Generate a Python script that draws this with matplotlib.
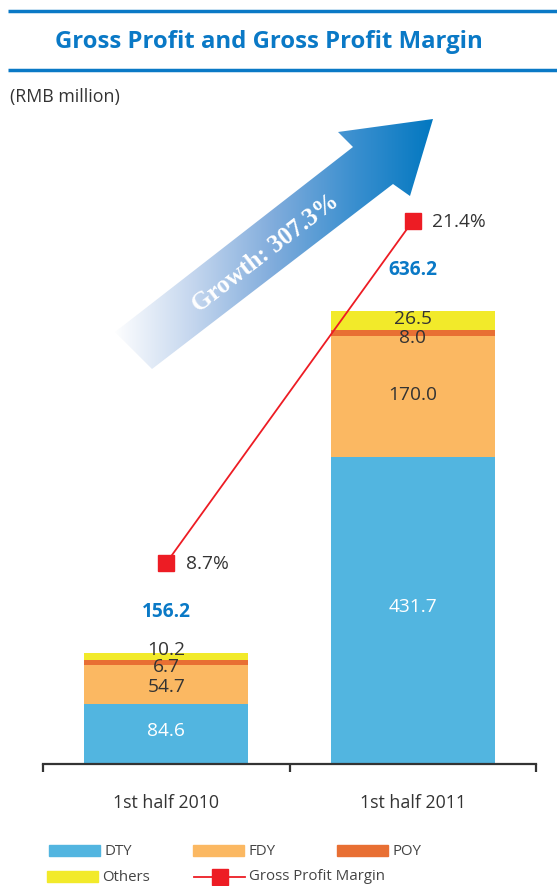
import numpy as np
import matplotlib
matplotlib.use("Agg")
import matplotlib.pyplot as plt
from matplotlib.colors import LinearSegmentedColormap
from matplotlib.patches import Polygon, Rectangle
from matplotlib.lines import Line2D

# ---------------- data ----------------
categories = ["1st half 2010", "1st half 2011"]
series_names = ["DTY", "FDY", "POY", "Others"]
dty = [84.6, 431.7]
fdy = [54.7, 170.0]
poy = [6.7, 8.0]
others = [10.2, 26.5]
totals = [156.2, 636.2]
margin = [8.7, 21.4]
line_name = "Gross Profit Margin"
growth_label = "Growth: 307.3%"
title = "Gross Profit and Gross Profit Margin"
unit_label = "(RMB million)"

# ---------------- style ----------------
W, H = 557, 887
colors = ["#52B5E0", "#FBB862", "#E86F33", "#F2EA2A"]
label_colors = ["white", "#333333", "#333333", "#333333"]
# vertical nudges of segment labels, in pixels (per series, per bar)
label_nudge = [[4, 4], [-2, 2], [-4, -4], [7, 2]]
red = "#ED1C24"
blue = "#0A79C6"
FONT = "Open Sans"
plt.rcParams["font.family"] = [FONT, "DejaVu Sans"]

fig = plt.figure(figsize=(W / 100, H / 100), dpi=100)


def px_rect(l, t, r, b):
    return [l / W, 1 - b / H, (r - l) / W, (b - t) / H]


# background overlay in pixel coordinates (title rules, arrow)
ov = fig.add_axes([0, 0, 1, 1], zorder=0)
ov.set_xlim(0, W)
ov.set_ylim(H, 0)
ov.axis("off")
ov.plot([8, W], [12, 12], color=blue, lw=2.5, solid_capstyle="butt")
ov.plot([8, W], [71, 71], color=blue, lw=2.5, solid_capstyle="butt")
ov.text(269, 42, title, color=blue, fontsize=17.2, fontweight="bold",
        ha="center", va="center", family=FONT)
ov.text(10, 97, unit_label, color="#333333", fontsize=12.8,
        ha="left", va="center", family=FONT)

# gradient arrow
arrow_pts = [(115, 333), (353, 148), (338, 133), (433, 120),
             (410, 197), (393, 185), (152, 370)]
poly = Polygon(arrow_pts, closed=True, facecolor="none", edgecolor="none")
ov.add_patch(poly)
cmap = LinearSegmentedColormap.from_list(
    "arr", ["#ffffff", "#c4d6ee", "#80acdc", "#3a8fcf", "#0077c0"])
grad = np.linspace(0, 1, 256).reshape(1, -1)
im = ov.imshow(grad, cmap=cmap, extent=(112, 436, 372, 118), aspect="auto",
               interpolation="bilinear")
im.set_clip_path(poly)
ov.set_xlim(0, W)
ov.set_ylim(H, 0)
ov.text(266, 253, growth_label, color="white", fontsize=18, fontweight="bold",
        family="Liberation Serif", rotation=37.7, ha="center", va="center",
        rotation_mode="anchor")

# ---------------- bars ----------------
ax = fig.add_axes(px_rect(43, 100, 536, 765), zorder=1)
ax.patch.set_alpha(0)
x = np.arange(len(categories))
bottom = np.zeros(len(categories))
series = [dty, fdy, poy, others]
for si, (vals, c, name) in enumerate(zip(series, colors, series_names)):
    vals = np.asarray(vals)
    ax.bar(x, vals, width=0.667, bottom=bottom, color=c, label=name, zorder=2)
    for bi in range(len(x)):
        ax.annotate(f"{vals[bi]:.1f}", (x[bi], bottom[bi] + vals[bi] / 2),
                    xytext=(0, label_nudge[si][bi] * 0.72),
                    textcoords="offset points", ha="center", va="center",
                    fontsize=13.8, color=label_colors[si], zorder=5)
    bottom += vals
for bi in range(len(x)):
    ax.annotate(f"{totals[bi]:.1f}", (x[bi], totals[bi]), xytext=(0, 30),
                textcoords="offset points", ha="center", va="center",
                fontsize=13.8, fontweight="bold", color=blue)

ax.set_xlim(-0.5, 1.5)
ax.set_ylim(0, 665 / 0.712)
for s in ["top", "right", "left"]:
    ax.spines[s].set_visible(False)
ax.spines["bottom"].set_color("#333333")
ax.spines["bottom"].set_linewidth(1.6)
ax.set_yticks([])
ax.set_xticks(x)
ax.set_xticklabels(categories, fontsize=12.8, color="#333333")
ax.tick_params(axis="x", which="major", length=0, pad=21)
ax.set_xticks([-0.5, 0.5, 1.5], minor=True)
ax.tick_params(axis="x", which="minor", length=6, width=1.6, color="#333333",
               direction="out")

# ---------------- margin line ----------------
ax2 = ax.twinx()
ax2.set_ylim(1.236, 25.93)
ax2.plot(x, margin, color=red, lw=1.3, marker="s", markersize=11.5,
         markerfacecolor=red, markeredgecolor=red, zorder=6)
for bi in range(len(x)):
    ax2.annotate(f"{margin[bi]}%", (x[bi], margin[bi]), xytext=(14, 0),
                 textcoords="offset points", ha="left", va="center",
                 fontsize=13.8, color="#333333")
ax2.axis("off")

# ---------------- legend (drawn manually) ----------------
leg = fig.add_axes([0, 0, 1, 1], zorder=3)
leg.set_xlim(0, W)
leg.set_ylim(H, 0)
leg.axis("off")
leg_items = [(series_names[0], colors[0], 49, 852),
             (series_names[1], colors[1], 193, 852),
             (series_names[2], colors[2], 337, 852),
             (series_names[3], colors[3], 47, 878)]
for name, c, lx, ly in leg_items:
    leg.add_patch(Rectangle((lx, ly - 5.5), 51, 11, color=c))
    leg.text(lx + 55, ly, name, fontsize=10.8, color="#444444",
             ha="left", va="center")
leg.add_line(Line2D([194, 245], [878, 878], color=red, lw=1.3))
leg.add_line(Line2D([219.5], [878], marker="s", markersize=11,
                    color=red, lw=0))
leg.text(249, 877, line_name, fontsize=10.8, color="#444444",
         ha="left", va="center")

fig.savefig("out.png", dpi=100)
